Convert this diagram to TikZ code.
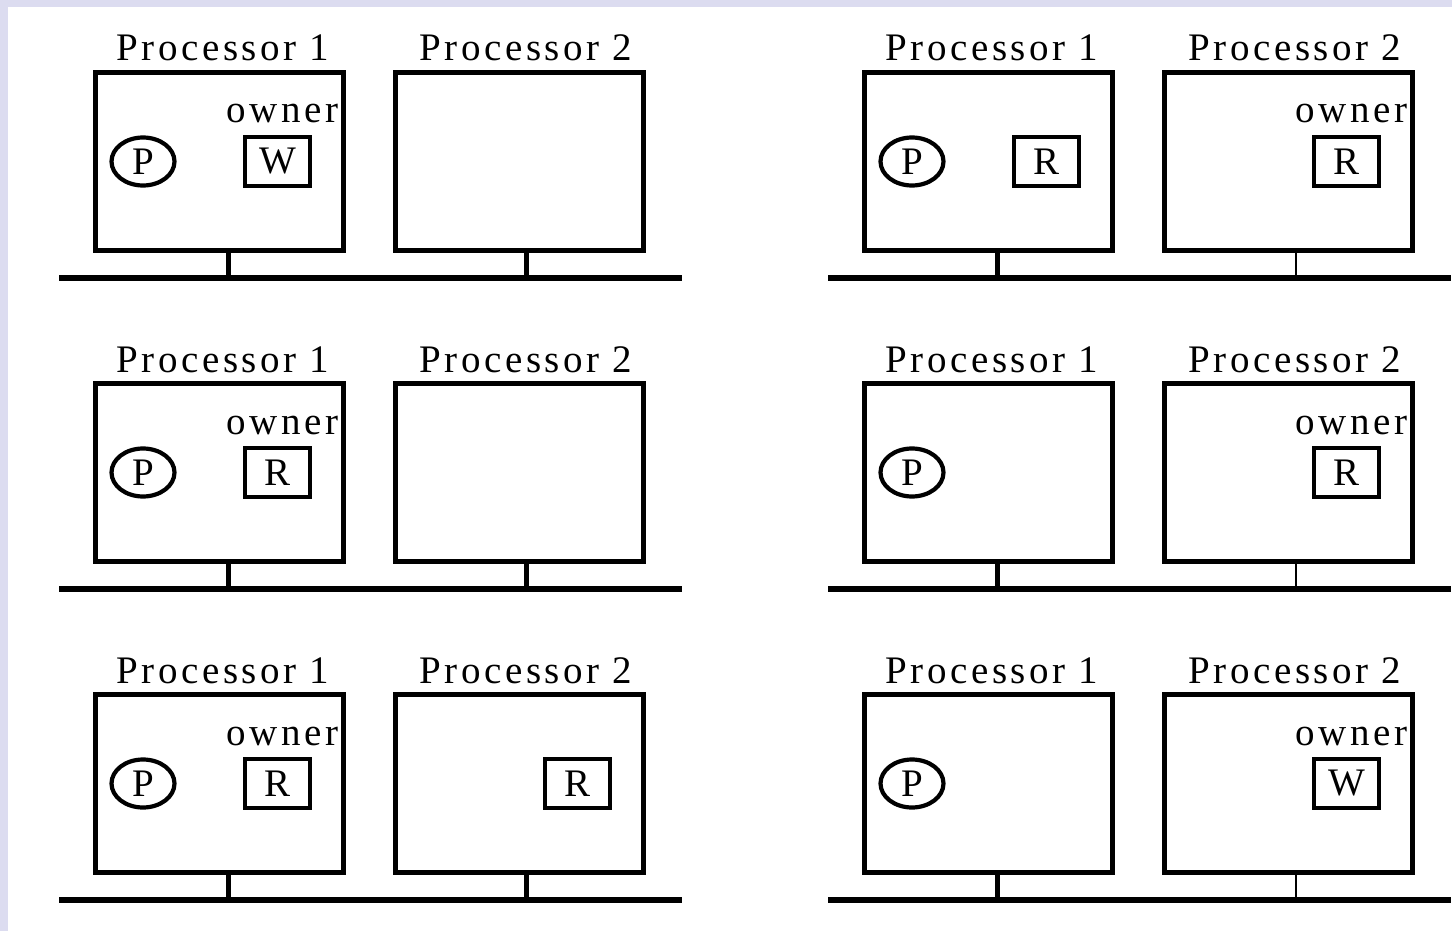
\documentclass[tikz,border=0pt]{standalone}
\usepackage{fontspec}
\newfontfamily\figfont{Liberation Serif}[LetterSpace=9]
\usetikzlibrary{shapes.geometric}
\definecolor{lav}{RGB}{220,220,240}
\newcommand\figtext{\figfont\fontsize{19.5}{22}\selectfont}
\tikzset{
 procbox/.style={draw, line width=2.8pt, minimum width=124pt, minimum height=89pt, inner sep=0pt, outer sep=0pt},
 itembox/.style={draw, line width=2.3pt, minimum width=32.5pt, minimum height=24.5pt, inner sep=0pt, outer sep=0pt, font=\figtext},
 pcirc/.style={draw, ellipse, line width=2.1pt, minimum width=31.5pt, minimum height=24pt, inner sep=0pt, font=\figtext},
 lbl/.style={anchor=base, inner sep=0pt, font=\figtext},
 busline/.style={line width=2.8pt},
 stubthick/.style={line width=2.8pt},
 stubthin/.style={line width=1pt},
}
% #1 prefix, #2 dx, #3 dy, #4 style of processor-2 stub
\newcommand\panelpair[4]{%
\begin{scope}[shift={(#2,#3)}]
 \node[procbox] (#1a) at (219.5,161.5) {};
 \node[procbox] (#1b) at (519.5,161.5) {};
 \node[lbl] (#1la) at ([xshift=1.75pt,yshift=50.25pt]#1a.center) {Processor 1};
 \node[lbl] (#1lb) at ([xshift=3.25pt,yshift=50.25pt]#1b.center) {Processor 2};
 \coordinate (#1busL) at (59,278);
 \coordinate (#1busR) at (682,278);
 \coordinate (#1sa) at ([xshift=4.5pt]#1a.south);
 \coordinate (#1sb) at ([xshift=3.5pt]#1b.south);
 \draw[busline] (#1busL) -- (#1busR);
 \draw[stubthick] (#1sa) -- (#1sa |- #1busL);
 \draw[#4] (#1sb) -- (#1sb |- #1busL);
\end{scope}}
% circle P inside box #2
\newcommand\pcircle[2]{\node[pcirc] (#1) at ([xshift=-38.25pt]#2.center) {P};}
% item box #3 inside box #2
\newcommand\cellitem[3]{\node[itembox] (#1) at ([xshift=29pt]#2.center) {#3};}
% owner label inside box #2
\newcommand\ownerlbl[2]{\node[lbl] (#1) at ([xshift=31.5pt,yshift=19.25pt]#2.center) {owner};}
\begin{document}
\begin{tikzpicture}[x=0.5pt,y=-0.5pt]
 \useasboundingbox (0,0) rectangle (1452,931);
 \fill[white] (0,0) rectangle (1452,931);
 \fill[lav] (0,0) rectangle (1452,7);
 \fill[lav] (0,0) rectangle (8,931);
 % left column
 \panelpair{LA}{0}{0}{stubthick}
 \panelpair{LB}{0}{311}{stubthick}
 \panelpair{LC}{0}{622}{stubthick}
 % right column
 \panelpair{RA}{769}{0}{stubthin}
 \panelpair{RB}{769}{311}{stubthin}
 \panelpair{RC}{769}{622}{stubthin}
 % contents
 \pcircle{LAp}{LAa} \ownerlbl{LAo}{LAa} \cellitem{LAw}{LAa}{W}
 \pcircle{LBp}{LBa} \ownerlbl{LBo}{LBa} \cellitem{LBr}{LBa}{R}
 \pcircle{LCp}{LCa} \ownerlbl{LCo}{LCa} \cellitem{LCr}{LCa}{R}
 \cellitem{LCr2}{LCb}{R}
 \pcircle{RAp}{RAa} \cellitem{RAr}{RAa}{R}
 \ownerlbl{RAo}{RAb} \cellitem{RAr2}{RAb}{R}
 \pcircle{RBp}{RBa}
 \ownerlbl{RBo}{RBb} \cellitem{RBr2}{RBb}{R}
 \pcircle{RCp}{RCa}
 \ownerlbl{RCo}{RCb} \cellitem{RCw2}{RCb}{W}
\end{tikzpicture}
\end{document}
